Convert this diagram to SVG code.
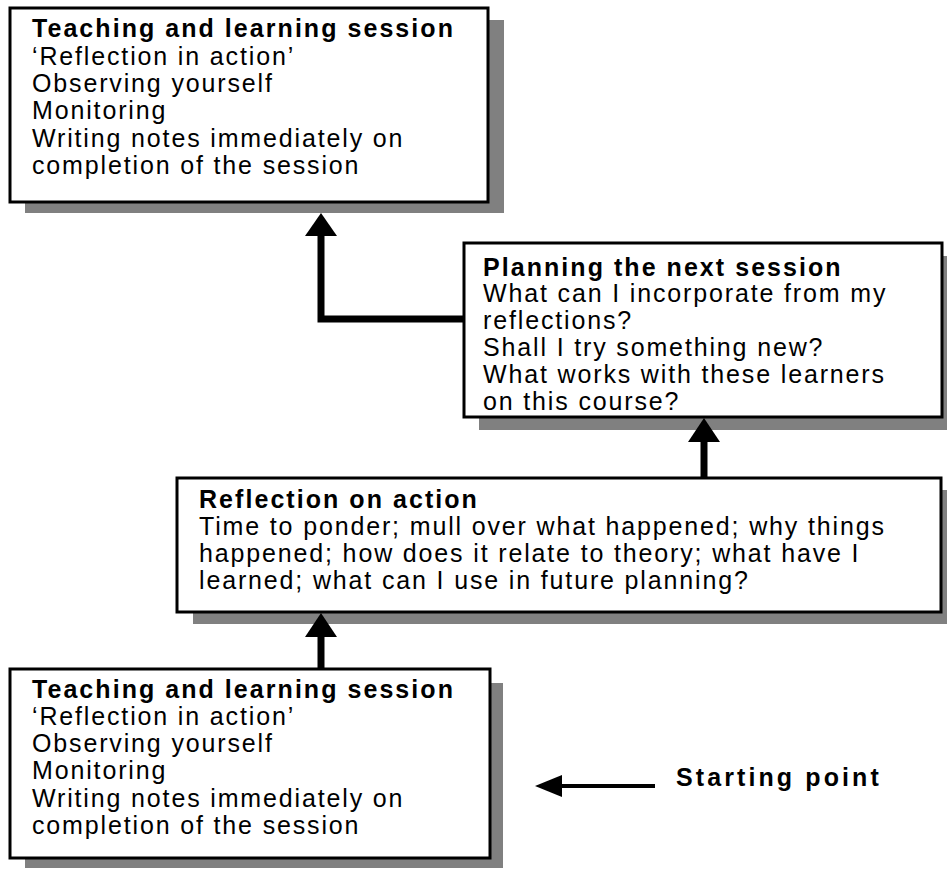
<svg xmlns="http://www.w3.org/2000/svg" width="947" height="871" viewBox="0 0 947 871">
<style>
.shadow{fill:#808080}
.box{fill:#fff;stroke:#000;stroke-width:3}
text{font-family:"Liberation Sans",Arial,sans-serif;font-size:25px;fill:#000;letter-spacing:1.85px}
.b{font-weight:bold;letter-spacing:2.05px}
.conn{fill:none;stroke:#000;stroke-width:7;stroke-linejoin:miter}
.thin{fill:none;stroke:#000;stroke-width:4}
.head{fill:#000}
</style>
<rect width="947" height="871" fill="#fff"/>
<g id="node-session-top">
<rect class="shadow" x="25" y="20" width="479" height="193"/>
<rect class="box" x="10" y="8" width="478" height="194"/>
<text class="b" x="32" y="37">Teaching and learning session</text>
<text x="32" y="65">‘Reflection in action’</text>
<text x="32" y="92">Observing yourself</text>
<text x="32" y="119">Monitoring</text>
<text x="32" y="147">Writing notes immediately on</text>
<text x="32" y="174">completion of the session</text>
</g>
<g id="node-planning">
<rect class="shadow" x="479" y="256" width="470" height="174"/>
<rect class="box" x="464" y="243" width="478" height="174"/>
<text class="b" x="483" y="276">Planning the next session</text>
<text x="483" y="302">What can I incorporate from my</text>
<text x="483" y="329">reflections?</text>
<text x="483" y="356">Shall I try something new?</text>
<text x="483" y="383">What works with these learners</text>
<text x="483" y="410">on this course?</text>
</g>
<g id="node-reflection">
<rect class="shadow" x="193" y="490" width="756" height="134"/>
<rect class="box" x="177" y="478" width="764" height="134"/>
<text class="b" x="199" y="508">Reflection on action</text>
<text x="199" y="535">Time to ponder; mull over what happened; why things</text>
<text x="199" y="562">happened; how does it relate to theory; what have I</text>
<text x="199" y="589">learned; what can I use in future planning?</text>
</g>
<g id="node-session-bottom">
<rect class="shadow" x="25" y="683" width="478" height="185"/>
<rect class="box" x="10" y="669" width="480" height="189"/>
<text class="b" x="32" y="698">Teaching and learning session</text>
<text x="32" y="725">‘Reflection in action’</text>
<text x="32" y="752">Observing yourself</text>
<text x="32" y="779">Monitoring</text>
<text x="32" y="807">Writing notes immediately on</text>
<text x="32" y="834">completion of the session</text>
</g>
<g id="node-start">
<text class="b" x="676" y="786" style="letter-spacing:3.1px">Starting point</text>
</g>
<g id="connectors">
<path class="conn" d="M464,319 H321 V234"/>
<polygon class="head" points="321,213 305,236 337,236"/>
<path class="conn" d="M704,478 V440"/>
<polygon class="head" points="704,418 688,442 720,442"/>
<path class="conn" d="M321,669 V635"/>
<polygon class="head" points="321,613 305,637 337,637"/>
<path class="thin" d="M655,786 H560"/>
<polygon class="head" points="535,786 562,775 562,797"/>
</g>
</svg>
